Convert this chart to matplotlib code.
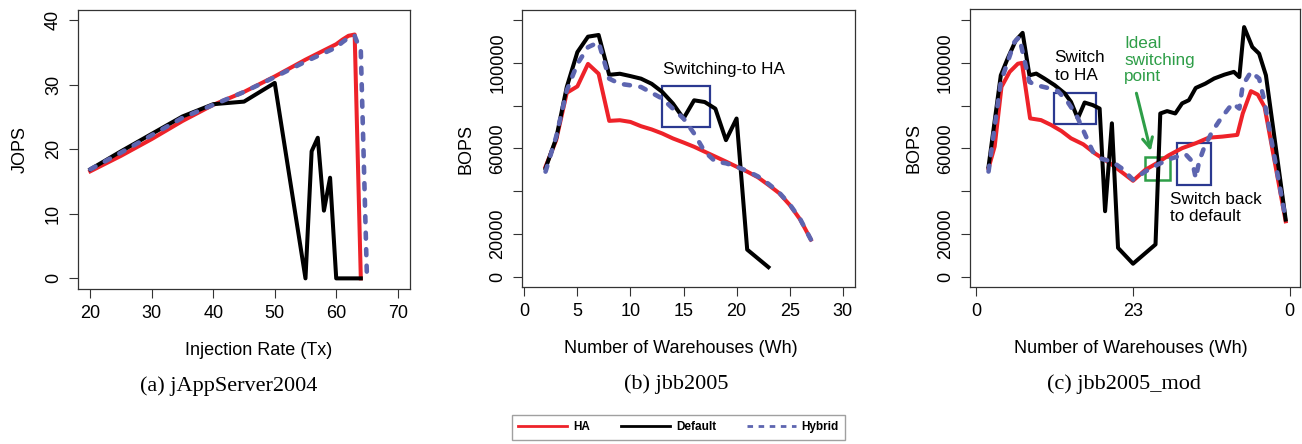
import matplotlib.pyplot as plt
from matplotlib.lines import Line2D
from matplotlib.patches import Rectangle

plt.rcParams['font.family'] = ['Liberation Sans', 'DejaVu Sans']

# (a) jAppServer2004
ha_a_x = [20, 25, 30, 35, 40, 45, 50, 55, 60, 61, 62, 63, 64]
ha_a_y = [16.6, 19.0, 21.6, 24.4, 26.9, 28.9, 31.3, 33.9, 36.3, 37.0, 37.6, 37.8, 0]
def_a_x = [20, 25, 30, 35, 40, 45, 50, 55, 56, 57, 58, 59, 60, 61, 62, 63, 64]
def_a_y = [16.9, 19.7, 22.4, 25.1, 27.0, 27.4, 30.3, 0, 19.7, 21.8, 10.5, 15.6, 0, 0, 0, 0, 0]
hyb_a_x = [20, 25, 30, 35, 40, 45, 50, 55, 60, 61, 62, 63, 64, 65]
hyb_a_y = [16.9, 19.5, 22.2, 24.9, 26.9, 28.9, 31.2, 33.6, 35.8, 36.6, 37.3, 37.6, 35.2, 0]

# (b) jbb2005, BOPS in thousands
ha_b_x = list(range(2, 28))
ha_b_y = [51.5, 63.9, 86.0, 89.0, 99.5, 94.9, 72.9, 73.2, 72.4, 70.4, 68.9, 67.0, 64.7,
          62.8, 60.8, 58.5, 56.2, 53.9, 51.5, 49.2, 46.6, 43.0, 39.2, 33.7, 26.8, 17.5]
def_b_x = list(range(2, 24))
def_b_y = [50.8, 64.7, 88.7, 105.0, 112.2, 113.0, 94.4, 94.9, 93.8, 92.6, 90.2, 86.4,
           81.0, 74.0, 82.5, 81.7, 78.6, 63.9, 74.0, 12.8, 8.7, 4.6]
hyb_b_x = list(range(2, 28))
hyb_b_y = [49.2, 65.5, 87.1, 99.5, 107.3, 109.6, 92.6, 90.2, 89.5, 88.7, 86.0, 83.3, 78.6,
           74.0, 67.0, 58.5, 53.9, 53.1, 51.5, 49.5, 47.0, 43.5, 39.5, 34.0, 27.0, 17.5]

# (c) jbb2005_mod, BOPS in thousands
ha_c_x = [1.8, 2.7, 3.7, 4.9, 6.1, 6.7, 7.9, 9.5, 11.0, 12.5, 13.9, 15.7, 17.4, 18.9, 20.3,
          23.0, 24.8, 26.5, 28.2, 30.2, 32.2, 34.1, 36.1, 38.3, 39.1, 40.3, 41.3, 42.3, 45.4]
ha_c_y = [50.8, 60.9, 88.7, 95.7, 99.5, 99.9, 74.0, 73.2, 70.9, 68.1, 64.7, 61.9, 57.7, 54.6, 51.5,
          44.9, 50.0, 53.1, 56.7, 60.1, 62.4, 65.0, 65.5, 66.3, 76.3, 86.7, 85.1, 79.4, 26.0]
def_c_x = [1.8, 3.6, 4.6, 5.8, 6.8, 7.8, 8.8, 10.0, 11.5, 13.0, 13.9, 14.9, 15.9, 17.1, 18.1,
           18.9, 19.9, 20.8, 23.0, 26.3, 27.0, 28.0, 29.2, 30.2, 31.2, 32.2, 33.6, 34.9, 36.4,
           37.8, 38.6, 39.3, 40.5, 41.5, 42.5, 45.4]
def_c_y = [51.5, 94.1, 101.9, 110.4, 113.9, 94.1, 94.9, 92.6, 89.5, 85.6, 81.7, 74.0, 81.4, 80.2,
           78.6, 30.7, 71.7, 13.6, 6.2, 15.2, 76.3, 77.4, 76.3, 81.0, 82.5, 88.2, 90.2, 92.6, 94.4,
           95.7, 93.3, 116.6, 107.3, 104.2, 94.1, 26.8]
hyb_c_x = [1.8, 3.6, 5.6, 6.3, 7.8, 8.8, 10.5, 12.0, 13.4, 14.7, 15.9, 17.1, 18.4, 19.9, 21.3,
           23.0, 24.8, 26.7, 28.7, 30.7, 31.7, 32.2, 32.7, 33.4, 34.6, 35.9, 37.6, 38.6, 39.1,
           40.3, 41.5, 42.3, 45.4]
hyb_c_y = [49.2, 91.0, 109.6, 111.9, 91.0, 89.5, 88.2, 86.7, 81.7, 75.5, 67.0, 58.5, 55.1, 53.9,
           50.8, 45.4, 49.2, 52.6, 55.4, 57.3, 53.9, 46.1, 53.9, 60.1, 67.8, 74.0, 81.0, 78.6,
           89.5, 95.7, 92.6, 81.7, 26.8]

bops_ticks = [0, 20000, 40000, 60000, 80000, 100000, 120000]
bops_labels = ['0', '20000', '', '60000', '', '100000', '']

RED = '#EE2229'
BLUE = '#5D65B0'
BOXBLUE = '#2B3990'
GREEN = '#2E9E48'
W, H = 1302, 444


def panel(px_left, px_right, px_top, px_bottom):
    return fig.add_axes([px_left / W, 1 - px_bottom / H,
                         (px_right - px_left) / W, (px_bottom - px_top) / H])


def draw_lines(ax, xs, scale=1.0):
    (hx, hy), (dx, dy), (bx, by) = xs
    ax.plot(hx, [v * scale for v in hy], color=RED, lw=2.9, solid_joinstyle='round')
    ax.plot(dx, [v * scale for v in dy], color='black', lw=2.9, solid_joinstyle='round')
    ax.plot(bx, [v * scale for v in by], color=BLUE, lw=3.3, dashes=(1.3, 2.3),
            dash_capstyle='round', dash_joinstyle='round')


def style(ax, xlabel, ylabel, caption, xl_x, cap_x, yl_x):
    for sp in ax.spines.values():
        sp.set_color('#333333')
        sp.set_linewidth(0.9)
    ax.tick_params(direction='out', length=6.5, width=0.8, color='#333333',
                   labelsize=13, pad=5.0)
    ax.tick_params(axis='y', labelrotation=90, pad=5.0)
    for lab in ax.get_yticklabels():
        lab.set_va('center')
    ax.set_xlabel(xlabel, fontsize=13, va='center')
    ax.xaxis.set_label_coords(xl_x, -0.221)
    ax.set_ylabel(ylabel, fontsize=13, va='center')
    ax.yaxis.set_label_coords(yl_x, 0.5)
    ax.text(cap_x, -0.350, caption, transform=ax.transAxes, ha='center', va='center',
            fontsize=16, family='Liberation Serif')


fig = plt.figure(figsize=(13.02, 4.44), dpi=100)

# (a)
ax1 = panel(78, 410, 10, 288.7)
draw_lines(ax1, [(ha_a_x, ha_a_y), (def_a_x, def_a_y), (hyb_a_x, hyb_a_y)])
ax1.set_xlim(18, 72)
ax1.set_ylim(-1.6, 41.6)
ax1.set_xticks([20, 30, 40, 50, 60, 70])
ax1.set_yticks([0, 10, 20, 30, 40])
style(ax1, 'Injection Rate (Tx)', 'JOPS', '(a) jAppServer2004', 0.545, 0.455, -0.175)

# (b)
ax2 = panel(522.3, 854.7, 9.7, 287.3)
draw_lines(ax2, [(ha_b_x, ha_b_y), (def_b_x, def_b_y), (hyb_b_x, hyb_b_y)], 1000)
ax2.set_xlim(-0.19, 31.13)
ax2.set_ylim(-4800, 124800)
ax2.set_xticks([0, 5, 10, 15, 20, 25, 30])
ax2.set_yticks(bops_ticks)
ax2.set_yticklabels(bops_labels)
ax2.add_patch(Rectangle((12.95, 70100), 4.5, 18900, fill=False, ec=BOXBLUE, lw=1.6))
ax2.text(13.1, 96800, 'Switching-to HA', fontsize=12.3, va='center', ha='left')
style(ax2, 'Number of Warehouses (Wh)', 'BOPS', '(b) jbb2005', 0.477, 0.464, -0.170)

# (c)
ax3 = panel(970, 1300, 9.5, 287.3)
draw_lines(ax3, [(ha_c_x, ha_c_y), (def_c_x, def_c_y), (hyb_c_x, hyb_c_y)], 1000)
ax3.set_xlim(-0.92, 47.5)
ax3.set_ylim(-4800, 124800)
ax3.set_xticks([0, 23, 46])
ax3.set_xticklabels(['0', '23', '0'])
ax3.set_yticks(bops_ticks)
ax3.set_yticklabels(bops_labels)
ax3.add_patch(Rectangle((11.4, 71400), 6.2, 14500, fill=False, ec=BOXBLUE, lw=1.6))
ax3.add_patch(Rectangle((29.4, 42900), 5.0, 19800, fill=False, ec=BOXBLUE, lw=1.6))
ax3.add_patch(Rectangle((24.7, 45400), 3.7, 10500, fill=False, ec=GREEN, lw=1.8))
ax3.text(11.5, 98200, 'Switch\nto HA', fontsize=12.3, va='center', ha='left', linespacing=1.22)
ax3.text(28.4, 32250, 'Switch back\nto default', fontsize=12.3, va='center', ha='left',
         linespacing=1.22)
ax3.text(21.7, 101200, 'Ideal\nswitching\npoint', fontsize=12.3, va='center', ha='left',
         color=GREEN, linespacing=1.13)
ax3.annotate('', xy=(25.7, 57500), xytext=(23.4, 87000),
             arrowprops=dict(arrowstyle='->', color=GREEN, lw=2.2, mutation_scale=18))
style(ax3, 'Number of Warehouses (Wh)', 'BOPS', '(c) jbb2005_mod', 0.487, 0.467, -0.170)

handles = [Line2D([], [], color=RED, lw=2),
           Line2D([], [], color='black', lw=2),
           Line2D([], [], color=BLUE, lw=2, dashes=(2, 2))]
fig.legend(handles, ['HA', 'Default', 'Hybrid'], loc='upper left',
           bbox_to_anchor=(512 / W, 1 - 415 / H), ncol=3, frameon=True, fancybox=False,
           edgecolor='#888888', borderaxespad=0, borderpad=0.55, handlelength=4.15,
           handletextpad=0.5, columnspacing=2.6, prop={'weight': 'bold', 'size': 8.5})

fig.savefig('out.png', dpi=100)
